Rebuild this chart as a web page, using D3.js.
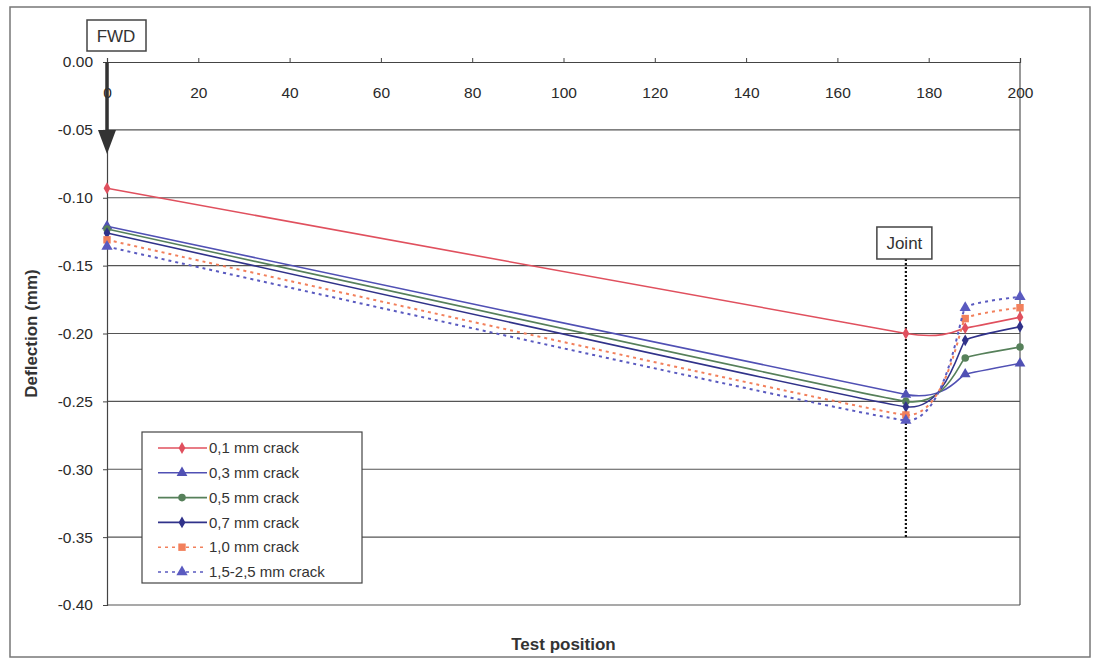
<!DOCTYPE html>
<html>
<head>
<meta charset="utf-8">
<script src="https://cdn.jsdelivr.net/npm/d3@7"></script>
<style>
  body { margin: 0; background: #fff; }
  svg { font-family: "Liberation Sans", Arial, sans-serif; }
</style>
</head>
<body>
<script>
const positions = [0, 175, 188, 200];
const seriesNames = ['0,1 mm crack', '0,3 mm crack', '0,5 mm crack', '0,7 mm crack', '1,0 mm crack', '1,5-2,5 mm crack'];
const crack01 = [-0.093, -0.200, -0.196, -0.188];
const crack03 = [-0.121, -0.245, -0.230, -0.222];
const crack05 = [-0.123, -0.250, -0.218, -0.210];
const crack07 = [-0.126, -0.254, -0.205, -0.195];
const crack10 = [-0.131, -0.260, -0.189, -0.181];
const crack15 = [-0.136, -0.264, -0.181, -0.173];
const xTicks = [0, 20, 40, 60, 80, 100, 120, 140, 160, 180, 200];
const yTicks = [0, -0.05, -0.10, -0.15, -0.20, -0.25, -0.30, -0.35, -0.40];
const jointPos = 175;

const w = 1094;
const h = 661;
const margin = { left: 107, right: 74, top: 62, bottom: 56 };

const svg = d3.select('body').append('svg').attr('width', w).attr('height', h);

// outer frame
svg.append('rect')
  .attr('x', 10).attr('y', 7)
  .attr('width', 1080).attr('height', 650)
  .attr('fill', '#fff').attr('stroke', '#777').attr('stroke-width', 1.5);

const xScale = d3.scaleLinear().domain([0, 200]).range([margin.left, w - margin.right]);
const yScale = d3.scaleLinear().domain([-0.40, 0]).range([h - margin.bottom, margin.top]);

// grid lines
svg.append('g')
  .selectAll('line')
  .data(yTicks.filter(d => d !== 0))
  .enter()
  .append('line')
  .attr('x1', xScale(0))
  .attr('x2', xScale(200))
  .attr('y1', d => yScale(d))
  .attr('y2', d => yScale(d))
  .attr('stroke', '#555')
  .attr('stroke-width', 1.2);

// plot frame (right side)
svg.append('line')
  .attr('x1', xScale(200)).attr('x2', xScale(200))
  .attr('y1', yScale(0)).attr('y2', yScale(-0.40))
  .attr('stroke', '#555').attr('stroke-width', 1.2);

// y axis, plain hyphen for the minus sign
const fmt = d3.format('.2f');
const yAxis = d3.axisLeft(yScale).tickValues(yTicks).tickFormat(d => fmt(d).replace('\u2212', '-')).tickSize(4);
svg.append('g')
  .attr('transform', `translate(${xScale(0)},0)`)
  .call(yAxis)
  .call(g => g.select('.domain').attr('stroke', '#444').attr('stroke-width', 1.2))
  .call(g => g.selectAll('.tick line').attr('stroke', '#444'))
  .call(g => g.selectAll('text')
    .attr('x', -14)
    .attr('font-size', 15.5)
    .attr('font-family', '"Liberation Sans", Arial, sans-serif')
    .attr('fill', '#2a2a2a'));

// x axis at y = 0, labels below the line
const xAxis = d3.axisTop(xScale).tickValues(xTicks).tickFormat(d3.format('d')).tickSize(4);
svg.append('g')
  .attr('transform', `translate(0,${yScale(0)})`)
  .call(xAxis)
  .call(g => g.select('.domain').attr('stroke', '#444').attr('stroke-width', 1.2))
  .call(g => g.selectAll('.tick line').attr('stroke', '#444'))
  .call(g => g.selectAll('text')
    .attr('y', 36)
    .attr('font-size', 15.5)
    .attr('font-family', '"Liberation Sans", Arial, sans-serif')
    .attr('fill', '#2a2a2a'));

// axis titles
svg.append('text')
  .attr('transform', `translate(33,${(yScale(0) + yScale(-0.40)) / 2}) rotate(-90)`)
  .attr('text-anchor', 'middle')
  .attr('dominant-baseline', 'middle')
  .attr('font-size', 17)
  .attr('font-weight', 'bold')
  .attr('fill', '#333')
  .text('Deflection (mm)');

svg.append('text')
  .attr('x', (xScale(0) + xScale(200)) / 2)
  .attr('y', 650)
  .attr('text-anchor', 'middle')
  .attr('font-size', 17)
  .attr('font-weight', 'bold')
  .attr('fill', '#333')
  .text('Test position');

// joint marker
svg.append('line')
  .attr('x1', xScale(jointPos)).attr('x2', xScale(jointPos))
  .attr('y1', 259).attr('y2', yScale(-0.35))
  .attr('stroke', '#111').attr('stroke-width', 2.2)
  .attr('stroke-dasharray', '2,2');
svg.append('rect')
  .attr('x', xScale(jointPos) - 29).attr('y', 227)
  .attr('width', 55).attr('height', 32)
  .attr('fill', '#fff').attr('stroke', '#444').attr('stroke-width', 1.5);
svg.append('text')
  .attr('x', xScale(jointPos) - 1.5).attr('y', 249)
  .attr('text-anchor', 'middle')
  .attr('font-size', 17)
  .attr('fill', '#333')
  .text('Joint');

// FWD marker
svg.append('rect')
  .attr('x', 87).attr('y', 20)
  .attr('width', 59).attr('height', 31)
  .attr('fill', '#fff').attr('stroke', '#444').attr('stroke-width', 1.5);
svg.append('text')
  .attr('x', 116).attr('y', 42)
  .attr('text-anchor', 'middle')
  .attr('font-size', 17)
  .attr('fill', '#333')
  .text('FWD');
svg.append('line')
  .attr('x1', xScale(0)).attr('x2', xScale(0))
  .attr('y1', yScale(0)).attr('y2', 132)
  .attr('stroke', '#333').attr('stroke-width', 3.5);
svg.append('path')
  .attr('d', `M${xScale(0) - 9},130 L${xScale(0) + 9},130 L${xScale(0)},154 Z`)
  .attr('fill', '#333');

// series
const series = [crack01, crack03, crack05, crack07, crack10, crack15].map((vals, i) => ({
  name: seriesNames[i],
  values: vals.map((v, j) => ({ x: positions[j], y: v }))
}));
const colors = ['#e0505e', '#5050b4', '#56805a', '#30328a', '#f2805c', '#5a5ac0'];
const dashes = [null, null, null, null, '3,4', '3,4'];
const symbols = [d3.symbolDiamond, d3.symbolTriangle, d3.symbolCircle, d3.symbolDiamond, d3.symbolSquare, d3.symbolTriangle];
const symSizes = [40, 50, 45, 40, 55, 55];

const line = d3.line()
  .x(d => xScale(d.x))
  .y(d => yScale(d.y))
  .curve(d3.curveCardinal.tension(0.72));

const sg = svg.append('g')
  .selectAll('g')
  .data(series)
  .enter()
  .append('g');

sg.append('path')
  .attr('d', d => line(d.values))
  .attr('fill', 'none')
  .attr('stroke', (d, i) => colors[i])
  .attr('stroke-width', (d, i) => (i >= 4 ? 2 : 1.6))
  .attr('stroke-dasharray', (d, i) => dashes[i]);

sg.each(function (d, i) {
  d3.select(this)
    .selectAll('path.mark')
    .data(d.values)
    .enter()
    .append('path')
    .attr('class', 'mark')
    .attr('transform', p => `translate(${xScale(p.x)},${yScale(p.y)})`)
    .attr('d', d3.symbol().type(symbols[i]).size(symSizes[i]))
    .attr('fill', colors[i]);
});

// legend
const legend = svg.append('g').attr('transform', 'translate(142,432)');
legend.append('rect')
  .attr('width', 220).attr('height', 151)
  .attr('fill', '#fff').attr('stroke', '#444').attr('stroke-width', 1.2);
const li = legend.selectAll('g')
  .data(series)
  .enter()
  .append('g')
  .attr('transform', (d, i) => `translate(0,${16 + i * 24.8})`);
li.append('line')
  .attr('x1', 16).attr('x2', 65)
  .attr('stroke', (d, i) => colors[i])
  .attr('stroke-width', 1.6)
  .attr('stroke-dasharray', (d, i) => dashes[i]);
li.append('path')
  .attr('transform', 'translate(40,0)')
  .attr('d', (d, i) => d3.symbol().type(symbols[i]).size(symSizes[i])())
  .attr('fill', (d, i) => colors[i]);
li.append('text')
  .attr('x', 67)
  .attr('dy', '0.35em')
  .attr('font-size', 15)
  .attr('fill', '#333')
  .text(d => d.name);
</script>
</body>
</html>
